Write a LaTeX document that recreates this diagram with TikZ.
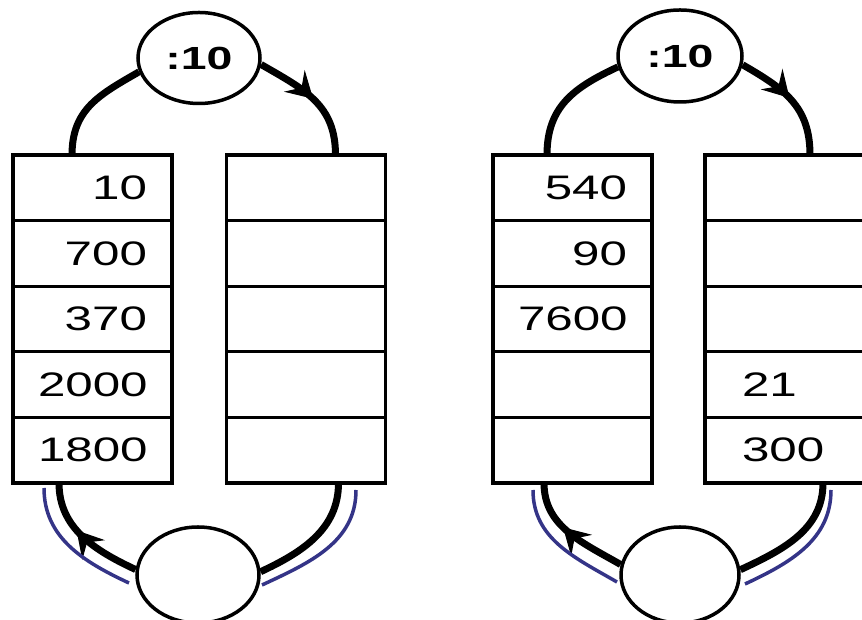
\documentclass[tikz,border=0pt]{standalone}
\usepackage{fontspec}
\usepackage{tikz}
\usetikzlibrary{positioning,shapes.geometric,arrows.meta,decorations.markings}
\newfontfamily\numfont[FakeStretch=1.45]{Liberation Sans}
\definecolor{blueline}{RGB}{52,52,135}

\begin{document}
\begin{tikzpicture}[x=1pt,y=1pt,node distance=65.6pt,
  arrowat/.style={postaction={decorate},decoration={markings,
    mark=at position #1 with {\arrow[line width=1pt]{Stealth[length=26pt,width=30pt,inset=10pt]}}}}]
\tikzstyle{cell}=[rectangle,draw,line width=3.2pt,outer sep=0pt,minimum width=159pt,minimum height=65.6pt,inner ysep=0pt,font=\numfont\fontsize{34}{36}\selectfont]
\tikzstyle{cellR}=[cell,text width=109pt,inner xsep=25pt,align=right]
\tikzstyle{cellL}=[cell,text width=85pt,inner xsep=35pt,align=left]
\tikzstyle{div}=[ellipse,draw,line width=3.5pt,inner sep=0pt,minimum width=122pt,minimum height=91pt,font=\numfont\bfseries\fontsize{32}{34}\selectfont]
\tikzstyle{flow}=[line width=7pt]
\tikzstyle{blueflow}=[blueline,line width=3.5pt]

\path[use as bounding box] (0,0) rectangle (862,620);
\clip (0,0) rectangle (862,620);

% left panel
\node[cellR] (A1) at (92.5,432.2) {10};
\node[cellR] (A2) [below of=A1] {700};
\node[cellR] (A3) [below of=A2] {370};
\node[cellR] (A4) [below of=A3] {2000};
\node[cellR] (A5) [below of=A4] {1800};

\node[cellR] (B1) at (306,432.2) {};
\node[cellR] (B2) [below of=B1] {};
\node[cellR] (B3) [below of=B2] {};
\node[cellR] (B4) [below of=B3] {};
\node[cellR] (B5) [below of=B4] {};

\node[div] (div1) at (199,562) {:10};
\node[div,minimum height=96pt] (div3) at (198,45) {};

\draw[flow] ([xshift=59pt]A1.north west) to[out=90,in=210,looseness=1.1] (div1.193);
\draw[flow,arrowat=0.5] (div1.-6) to[out=-30,in=90,looseness=1.1] ([xshift=109pt]B1.north west);
\draw[flow] ([xshift=112pt]B5.south west) to[out=-90,in=25] (div3.3);
\draw[flow,arrowat=0.58] (div3.175) to[out=155,in=-90] ([xshift=46pt]A5.south west);

\coordinate (bl1) at (44,132);
\coordinate (bl2) at (129,37);
\coordinate (br1) at (356,130);
\coordinate (br2) at (262,35);
\draw[blueflow] (bl1) to[out=-90,in=155] (bl2);
\draw[blueflow] (br1) to[out=-90,in=25] (br2);

% right panel
\node[cellR] (C1) at (572.5,432.2) {540};
\node[cellR] (C2) [below of=C1] {90};
\node[cellR] (C3) [below of=C2] {7600};
\node[cellR] (C4) [below of=C3] {};
\node[cellR] (C5) [below of=C4] {};

\node[cellL] (D1) at (784.5,432.2) {};
\node[cellL] (D2) [below of=D1] {};
\node[cellL] (D3) [below of=D2] {};
\node[cellL] (D4) [below of=D3] {21};
\node[cellL] (D5) [below of=D4] {300};

\node[div,minimum width=124pt,minimum height=92pt] (div2) at (680,564) {:10};
\node[div,minimum width=118pt,minimum height=96pt] (div4) at (680,45) {};

\draw[flow] ([xshift=54pt]C1.north west) to[out=90,in=205,looseness=1.1] (div2.190);
\draw[flow,arrowat=0.48] (div2.-8) to[out=-30,in=90,looseness=1.1] ([xshift=105pt]D1.north west);
\draw[flow] ([xshift=118pt]D5.south west) to[out=-90,in=25] (div4.5);
\draw[flow,arrowat=0.58] (div4.170) to[out=150,in=-90] ([xshift=51pt]C5.south west);

\coordinate (cl1) at (533,130);
\coordinate (cl2) at (617,38);
\coordinate (cr1) at (831,130);
\coordinate (cr2) at (745,36);
\draw[blueflow] (cl1) to[out=-90,in=150] (cl2);
\draw[blueflow] (cr1) to[out=-90,in=25] (cr2);

\end{tikzpicture}
\end{document}
